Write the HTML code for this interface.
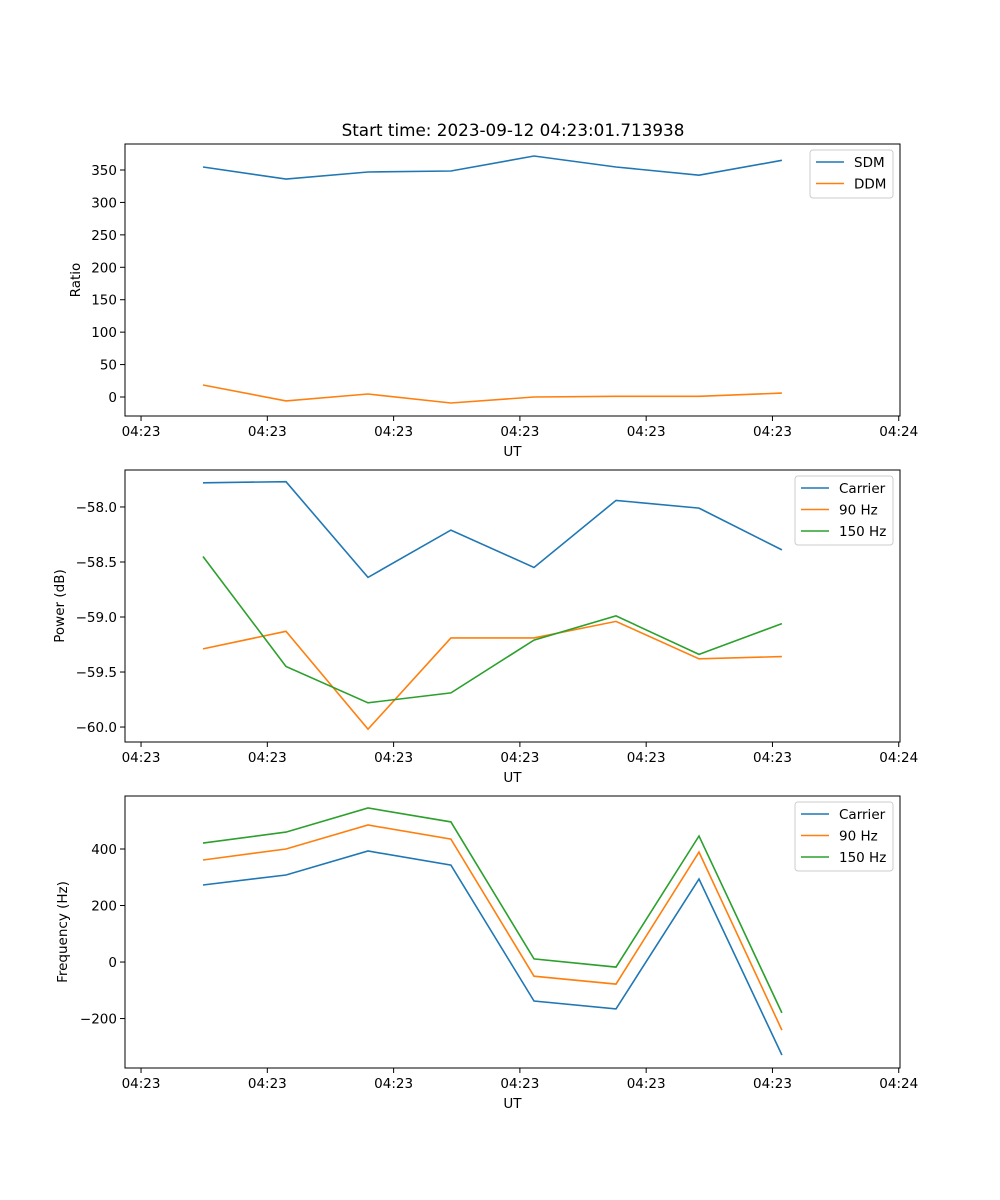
<!DOCTYPE html>
<html><head><meta charset="utf-8"><style>
body{margin:0;background:#fff}
svg{display:block;font-family:"DejaVu Sans","Liberation Sans",sans-serif}
</style></head><body>
<svg id="fig" width="1000" height="1200" viewBox="0 0 1000 1200">
<text x="513" y="136" font-size="16.8" text-anchor="middle">Start time: 2023-09-12 04:23:01.713938</text>
</svg>
<script>
const times = [4.91, 11.48, 17.97, 24.54, 31.12, 37.61, 44.18, 50.75];
const xTicks = [0, 10, 20, 30, 40, 50, 60];
const xTickLabels = ["04:23","04:23","04:23","04:23","04:23","04:23","04:24"];
const sdm = [354.6, 336, 347, 348.4, 371.6, 354.6, 342, 365];
const ddm = [18.5, -6, 4.6, -9.2, 0, 1, 1, 6];
const powCarrier = [-57.78, -57.77, -58.64, -58.21, -58.55, -57.94, -58.01, -58.39];
const pow90 = [-59.29, -59.13, -60.02, -59.19, -59.19, -59.04, -59.38, -59.36];
const pow150 = [-58.45, -59.45, -59.78, -59.69, -59.21, -58.99, -59.34, -59.06];
const freqCarrier = [272.6, 308, 393, 343, -138, -166, 294, -329];
const freq90 = [361, 400, 485, 435, -50, -78, 389, -241];
const freq150 = [421, 460, 545, 496, 11, -18, 446, -180];
const ratioTicks = [0,50,100,150,200,250,300,350];
const powTicks = [-60.0,-59.5,-59.0,-58.5,-58.0];
const freqTicks = [-200,0,200,400];

const NS="http://www.w3.org/2000/svg";
const fig=document.getElementById('fig');
function mk(tag,attrs,parent){const e=document.createElementNS(NS,tag);for(const k in attrs)e.setAttribute(k,attrs[k]);(parent||fig).appendChild(e);return e;}
const C={blue:"#1f77b4",orange:"#ff7f0e",green:"#2ca02c"};

function panel(name,top,ymin,ymax,yticks,fmt,ylabel,ylabelX,series,legend){
  const L=125,R=900,T=top,B=top+272,xmin=-1.27,xmax=60.1;
  const g=mk('g',{});
  
  
  const xs=t=>L+(t-xmin)/(xmax-xmin)*(R-L);
  const ys=v=>B-(v-ymin)/(ymax-ymin)*(B-T);
  series.forEach(s=>{
    const p=mk('polyline',{points:s.vals.map((v,i)=>xs(times[i]).toFixed(1)+','+ys(v).toFixed(1)).join(' '),fill:'none',stroke:s.color,'stroke-width':1.6},g);
    
    
  });
  const fr=mk('rect',{x:L,y:T,width:R-L,height:B-T,fill:'none',stroke:'#000','stroke-width':1},g);
  
  
  xTicks.forEach((t,i)=>{
    const x=xs(t);
    mk('line',{x1:x,x2:x,y1:B,y2:B+5,stroke:'#000'},g);
    const tx=mk('text',{x:x,y:B+20,'font-size':13.5,'text-anchor':'middle'},g);
    tx.textContent=xTickLabels[i];
    
    
  });
  const xl=mk('text',{x:(L+R)/2,y:B+40,'font-size':13.5,'text-anchor':'middle'},g);
  xl.textContent='UT';
  
  
  yticks.forEach(v=>{
    const y=ys(v);
    mk('line',{x1:L-5,x2:L,y1:y,y2:y,stroke:'#000'},g);
    const tx=mk('text',{x:L-8,y:y+5,'font-size':13.5,'text-anchor':'end'},g);
    tx.textContent=fmt(v);
    
    
  });
  const yl=mk('text',{x:ylabelX,y:(T+B)/2,'font-size':13.5,'text-anchor':'middle',transform:`rotate(-90 ${ylabelX} ${(T+B)/2})`},g);
  yl.textContent=ylabel;
  
  
  const lg=mk('g',{},g);
  
  
  mk('rect',{x:legend.x,y:T+6,width:893-legend.x,height:series.length*21+6,rx:3,fill:'#fff','fill-opacity':0.8,stroke:'#ccc'},lg);
  series.forEach((s,i)=>{
    const y=T+18+i*21.5;
    mk('line',{x1:legend.x+6,x2:legend.x+34,y1:y,y2:y,stroke:s.color,'stroke-width':1.6},lg);
    const t=mk('text',{x:legend.x+44,y:y+5,'font-size':13.5},lg);
    t.textContent=s.label;
    
    
  });
}
const minus=s=>s.replace('-','\u2212');
panel('ratio',144,-29.3,390.1,ratioTicks,v=>minus(String(v)),'Ratio',80,
  [{key:'sdm',label:'SDM',vals:sdm,color:C.blue},{key:'ddm',label:'DDM',vals:ddm,color:C.orange}],{x:810});
panel('power',470,-60.136,-57.664,powTicks,v=>minus(v.toFixed(1)),'Power (dB)',64,
  [{key:'carrier',label:'Carrier',vals:powCarrier,color:C.blue},{key:'90hz',label:'90 Hz',vals:pow90,color:C.orange},{key:'150hz',label:'150 Hz',vals:pow150,color:C.green}],{x:795});
panel('frequency',796,-375,587.6,freqTicks,v=>minus(String(v)),'Frequency (Hz)',67,
  [{key:'carrier',label:'Carrier',vals:freqCarrier,color:C.blue},{key:'90hz',label:'90 Hz',vals:freq90,color:C.orange},{key:'150hz',label:'150 Hz',vals:freq150,color:C.green}],{x:795});
</script>
</body></html>
